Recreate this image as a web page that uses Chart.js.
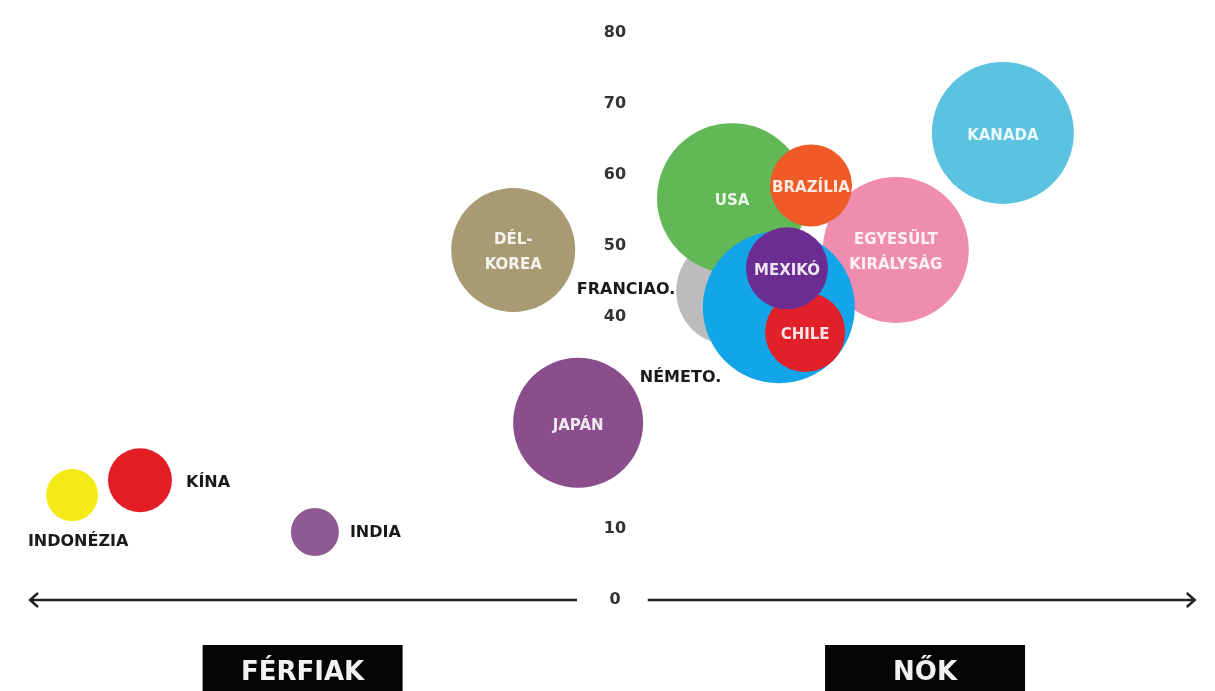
<!DOCTYPE html>
<html lang="hu">
<head>
    <meta charset="UTF-8">
    <title>Férfiak / Nők</title>
    <script src="https://cdn.jsdelivr.net/npm/chart.js"></script>
    <style>
        html, body { margin: 0; padding: 0; background: #fff; }
        #wrap { width: 1215px; height: 691px; position: relative; }
    </style>
</head>
<body>
    <div id="wrap"><canvas id="bubbleChart"></canvas></div>

    <script>
        // data (drawing order: later = on top)
        const countries = ['DÉL-\nKOREA', 'JAPÁN', 'INDIA', 'KÍNA', 'INDONÉZIA', 'KANADA', 'EGYESÜLT\nKIRÁLYSÁG',
                           'FRANCIAO.', 'USA', 'BRAZÍLIA', 'NÉMETO.', 'CHILE', 'MEXIKÓ'];
        const xValues = [-17.4, -6.3, -51.3, -81.2, -92.8, 66.3, 48.0, 19.7, 20.0, 33.5, 28.0, 32.5, 29.4];
        const yValues = [49.4, 25.0, 9.6, 16.9, 14.8, 65.9, 49.4, 43.6, 56.7, 58.5, 41.3, 37.8, 46.8];
        const bubbleSize = [62, 65, 24, 32, 26, 71, 73, 54, 75, 41, 76, 40, 41];
        const yTicks = [0, 10, 20, 30, 40, 50, 60, 70, 80];

        const colors = ['#a89b74', '#8b4e8c', '#8e5a94', '#e31e26', '#f6ea16', '#5bc3e0', '#ef8db1',
                        '#bcbcbe', '#62b757', '#f05a26', '#12a5e8', '#e2202a', '#6b2d92'];

        // labels outside their bubble (px offsets from the bubble centre)
        const outsideLabels = {
            'INDIA': { align: 'left', dx: 35, dy: 1 },
            'KÍNA': { align: 'left', dx: 46, dy: 3 },
            'INDONÉZIA': { align: 'center', dx: 6, dy: 47 },
            'FRANCIAO.': { align: 'right', dx: -55, dy: -1 },
            'NÉMETO.': { align: 'left', dx: -139, dy: 71 }
        };

        const FONT = '"DejaVu Sans", sans-serif';

        const backgroundPlugin = {
            id: 'axisArrows',
            beforeDatasetsDraw(chart) {
                const ctx = chart.ctx;
                const x = chart.scales.x, y = chart.scales.y;
                const zeroX = x.getPixelForValue(0);
                const zeroY = y.getPixelForValue(0);
                ctx.save();
                // y tick labels down the middle
                ctx.fillStyle = '#333';
                ctx.font = 'bold 16px ' + FONT;
                ctx.textAlign = 'center';
                ctx.textBaseline = 'middle';
                yTicks.forEach(t => ctx.fillText(String(t), zeroX, y.getPixelForValue(t)));

                // the two arrows
                ctx.strokeStyle = '#222';
                ctx.lineWidth = 2.5;
                const leftTip = x.getPixelForValue(-100), rightTip = x.getPixelForValue(99.1);
                ctx.beginPath();
                ctx.moveTo(x.getPixelForValue(-6.5), zeroY);
                ctx.lineTo(leftTip, zeroY);
                ctx.moveTo(leftTip + 8, zeroY - 7);
                ctx.lineTo(leftTip, zeroY);
                ctx.lineTo(leftTip + 8, zeroY + 7);
                ctx.moveTo(x.getPixelForValue(5.6), zeroY);
                ctx.lineTo(rightTip, zeroY);
                ctx.moveTo(rightTip - 8, zeroY - 7);
                ctx.lineTo(rightTip, zeroY);
                ctx.lineTo(rightTip - 8, zeroY + 7);
                ctx.stroke();

                // black boxes under the axis
                const boxes = [{ text: 'FÉRFIAK', at: -53.4 }, { text: 'NŐK', at: 53.0 }];
                boxes.forEach(b => {
                    const cx = x.getPixelForValue(b.at);
                    const top = zeroY + 45;
                    ctx.fillStyle = '#050505';
                    ctx.fillRect(cx - 100, top, 200, chart.height - top);
                    ctx.fillStyle = '#f2f2f2';
                    ctx.font = 'bold 26px ' + FONT;
                    ctx.fillText(b.text, cx, top + 28);
                });
                ctx.restore();
            },
            afterDatasetsDraw(chart) {
                const ctx = chart.ctx;
                const meta = chart.getDatasetMeta(0);
                ctx.save();
                ctx.textBaseline = 'middle';
                meta.data.forEach((pt, i) => {
                    const name = countries[i];
                    const out = outsideLabels[name];
                    if (out) {
                        ctx.fillStyle = '#1a1a1a';
                        ctx.font = 'bold 16px ' + FONT;
                        ctx.textAlign = out.align;
                        ctx.fillText(name, pt.x + out.dx, pt.y + out.dy);
                    } else {
                        ctx.fillStyle = 'rgba(255,255,255,0.88)';
                        ctx.font = 'bold 15px ' + FONT;
                        ctx.textAlign = 'center';
                        const lines = name.split('\n');
                        lines.forEach((line, k) => {
                            const off = (k - (lines.length - 1) / 2) * 25;
                            ctx.fillText(line, pt.x, pt.y + 3 + off);
                        });
                    }
                });
                ctx.restore();
            }
        };

        const points = countries.map((c, i) => ({ x: xValues[i], y: yValues[i], r: bubbleSize[i] }));

        new Chart(document.getElementById('bubbleChart').getContext('2d'), {
            type: 'bubble',
            data: {
                datasets: [{
                    data: points,
                    backgroundColor: colors,
                    borderColor: colors,
                    borderWidth: 0,
                    clip: false
                }]
            },
            options: {
                responsive: true,
                maintainAspectRatio: false,
                animation: false,
                events: [],
                layout: { autoPadding: false, padding: { left: 30, right: 15, top: 33, bottom: 91 } },
                plugins: { legend: { display: false }, tooltip: { enabled: false } },
                scales: {
                    x: { type: 'linear', min: -100, max: 100, display: false },
                    y: { type: 'linear', min: 0, max: 80, display: false }
                }
            },
            plugins: [backgroundPlugin]
        });
    </script>
</body>
</html>
